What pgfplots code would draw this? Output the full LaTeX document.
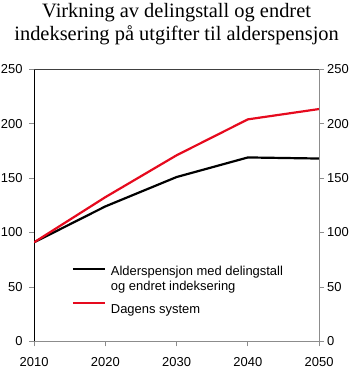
\documentclass[border=0pt]{standalone}
\usepackage{fontspec}
\setmainfont{Liberation Serif}
\newfontfamily\arial{Liberation Sans}
\usepackage{pgfplots}
\pgfplotsset{compat=1.18}
\definecolor{myred}{RGB}{230,10,30}
\definecolor{axgray}{RGB}{140,140,140}
\begin{document}
\begin{tikzpicture}
\begin{axis}[
  scale only axis, width=285bp, height=272bp,
  xmin=2010, xmax=2050, ymin=0, ymax=250,
  axis x line*=bottom, axis y line*=left,
  x axis line style={axgray, line width=0.8bp},
  y axis line style={black, line width=0.8bp},
  xtick={2010,2020,2030,2040,2050}, ytick={0,50,...,250},
  tick align=outside, major tick length=5bp,
  x tick style={axgray, line width=0.8bp},
  y tick style={axgray, line width=0.8bp},
  xticklabel style={/pgf/number format/1000 sep={}},
  /pgf/number format/assume math mode=true,
  tick label style={font=\arial\fontsize{13}{15}\selectfont, inner sep=1bp},
  xticklabel style={yshift=-10.3bp},
  yticklabel style={xshift=-5.3bp},
  title={Virkning av delingstall og endret\\indeksering på utgifter til alderspensjon},
  title style={align=center, font=\fontsize{20.5}{23}\selectfont, yshift=15bp},
  legend style={at={(axis cs:2015.25,71.5)}, anchor=north west, draw=none, fill=none,
     font=\arial\fontsize{13}{16}\selectfont, row sep=0.5bp,
     inner sep=0pt, column sep=3bp},
  legend cell align=left,
  legend image code/.code={\draw[#1] (0bp,2.5bp) -- (32bp,2.5bp);},
]
\addplot[black, line width=2.2bp] coordinates {(2010,91) (2020,124) (2030,151) (2040,169) (2050,168)};
\addlegendentry{Alderspensjon med delingstall}
\addlegendimage{empty legend}
\addlegendentry{og endret indeksering}
\addplot[myred, line width=2.2bp] coordinates {(2010,91) (2020,132.5) (2030,171) (2040,204) (2050,213.5)};
\addlegendentry{\rule{0pt}{17bp}Dagens system}
\end{axis}
\begin{axis}[
  scale only axis, width=285bp, height=272bp,
  xmin=2010, xmax=2050, ymin=0, ymax=250,
  axis x line*=top, axis y line*=right,
  x axis line style={black!75, line width=0.8bp},
  y axis line style={axgray, line width=0.8bp},
  xtick=\empty, ytick={0,50,...,250},
  tick align=outside, major tick length=5bp,
  y tick style={axgray, line width=0.8bp},
  /pgf/number format/assume math mode=true,
  tick label style={font=\arial\fontsize{13}{15}\selectfont, inner sep=1bp},
  yticklabel style={xshift=1.8bp},
]
\end{axis}
\path ([yshift=-2bp]current bounding box.south);
\end{tikzpicture}
\end{document}
